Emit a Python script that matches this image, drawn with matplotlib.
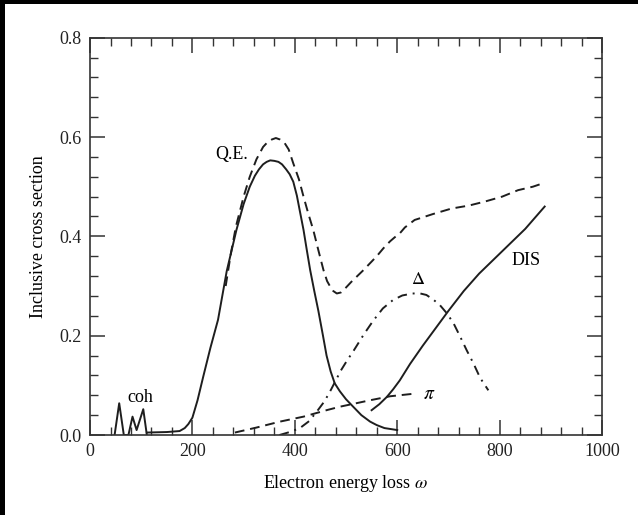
import matplotlib
matplotlib.use("Agg")
import matplotlib.pyplot as plt
from matplotlib.patches import Rectangle
from matplotlib.ticker import MultipleLocator

plt.rcParams['font.family'] = ['Liberation Serif', 'DejaVu Serif']
plt.rcParams['mathtext.fontset'] = 'stix'

# coherent peaks
coh_x = [48, 57, 66, 75, 83, 91, 104, 111]
coh_y = [0.0, 0.064, 0.0, 0.0, 0.037, 0.01, 0.052, 0.0]

# quasi-elastic (solid)
qe_x = [111, 150, 175, 185, 192, 200, 210, 221, 235, 250, 267, 286, 300, 312, 322,
        330, 338, 345, 352, 360, 368, 375, 383, 390, 397, 404, 410, 417, 423, 430,
        438, 446, 455, 462, 470, 478, 488, 500, 514, 530, 547, 560, 575, 600]
qe_y = [0.005, 0.006, 0.008, 0.014, 0.022, 0.035, 0.07, 0.117, 0.175, 0.232, 0.33,
        0.413, 0.465, 0.50, 0.522, 0.535, 0.545, 0.55, 0.553, 0.552, 0.55, 0.545,
        0.535, 0.525, 0.51, 0.482, 0.45, 0.413, 0.375, 0.332, 0.29, 0.25, 0.20,
        0.16, 0.128, 0.104, 0.088, 0.072, 0.057, 0.04, 0.027, 0.02, 0.014, 0.01]

# total (dashed)
tot_x = [265, 275, 285, 300, 312, 325, 338, 347, 355, 363, 371, 380, 388, 397, 408,
         417, 426, 436, 446, 456, 463, 469, 475, 482, 490, 500, 510, 522, 534, 547,
         560, 573, 586, 595, 605, 615, 634, 670, 706, 740, 771, 805, 836, 865, 888]
tot_y = [0.30, 0.365, 0.42, 0.48, 0.52, 0.555, 0.58, 0.59, 0.595, 0.598, 0.595,
         0.588, 0.575, 0.547, 0.515, 0.48, 0.447, 0.413, 0.372, 0.332, 0.31, 0.299,
         0.29, 0.285, 0.287, 0.297, 0.308, 0.32, 0.332, 0.346, 0.36, 0.376, 0.39,
         0.398, 0.406, 0.418, 0.433, 0.445, 0.456, 0.462, 0.470, 0.48, 0.493, 0.50,
         0.508]

# Delta (dash-dot)
delta_x = [370, 390, 410, 428, 445, 458, 470, 480, 490, 502, 515, 535, 553, 572,
           592, 610, 630, 645, 657, 670, 683, 697, 710, 723, 736, 749, 762, 778]
delta_y = [0.0, 0.006, 0.014, 0.028, 0.05, 0.068, 0.09, 0.11, 0.13, 0.15, 0.17,
           0.203, 0.23, 0.255, 0.272, 0.281, 0.285, 0.285, 0.282, 0.273, 0.262,
           0.245, 0.225, 0.198, 0.17, 0.144, 0.115, 0.09]

# pion (dashed)
pi_x = [283, 325, 371, 417, 462, 488, 520, 547, 586, 631]
pi_y = [0.005, 0.015, 0.027, 0.037, 0.05, 0.057, 0.064, 0.07, 0.078, 0.083]

# DIS (solid)
dis_x = [550, 565, 580, 592, 605, 625, 650, 675, 700, 730, 760, 800, 850, 888]
dis_y = [0.05, 0.062, 0.077, 0.092, 0.11, 0.143, 0.18, 0.215, 0.25, 0.29, 0.325,
         0.365, 0.415, 0.46]

fig = plt.figure(figsize=(6.38, 5.15), dpi=100, facecolor='white')
ax = fig.add_axes([0.1411, 0.1553, 0.8025, 0.7715])

lw = 1.4
ink = '#1e1e1e'
ax.plot(coh_x, coh_y, color=ink, lw=lw)
ax.plot(qe_x, qe_y, color=ink, lw=lw)
ax.plot(tot_x, tot_y, color=ink, lw=lw, dashes=(5, 3))
ax.plot(delta_x, delta_y, color=ink, lw=lw, dashes=(5, 3, 1, 3))
ax.plot(pi_x, pi_y, color=ink, lw=lw, dashes=(5, 3))
ax.plot(dis_x, dis_y, color=ink, lw=lw)

fs = 13
ax.text(277, 0.564, 'Q.E.', fontsize=fs, ha='center', va='center')
ax.text(98, 0.076, 'coh', fontsize=fs, ha='center', va='center')
ax.text(641, 0.314, r'$\Delta$', fontsize=fs, ha='center', va='center')
ax.text(851, 0.352, 'DIS', fontsize=fs, ha='center', va='center')
ax.text(662, 0.082, r'$\pi$', fontsize=fs + 1, ha='center', va='center')

ax.set_xlim(0, 1000)
ax.set_ylim(0, 0.8)
ax.xaxis.set_major_locator(MultipleLocator(200))
ax.xaxis.set_minor_locator(MultipleLocator(40))
ax.yaxis.set_major_locator(MultipleLocator(0.2))
ax.yaxis.set_minor_locator(MultipleLocator(0.04))
ax.yaxis.set_major_formatter(plt.FormatStrFormatter('%.1f'))
ax.tick_params(which='both', direction='in', top=True, right=True,
               labelsize=fs, colors='#333333', labelcolor='#222222')
ax.tick_params(which='major', length=11, width=1.1, pad=6)
ax.tick_params(which='minor', length=5.5, width=1.0)
for s in ax.spines.values():
    s.set_linewidth(1.2)
    s.set_color('#333333')

ax.set_xlabel(r'Electron energy loss $\omega$', fontsize=fs, labelpad=9)
ax.set_ylabel('Inclusive cross section', fontsize=fs, labelpad=9)

# black edges of the scanned image
fig.add_artist(Rectangle((0, 1 - 4 / 515), 1, 4 / 515, transform=fig.transFigure,
                         facecolor='black', edgecolor='none'))
fig.add_artist(Rectangle((0, 0), 5 / 638, 1, transform=fig.transFigure,
                         facecolor='black', edgecolor='none'))

fig.savefig('out.png', dpi=100, facecolor='white')
